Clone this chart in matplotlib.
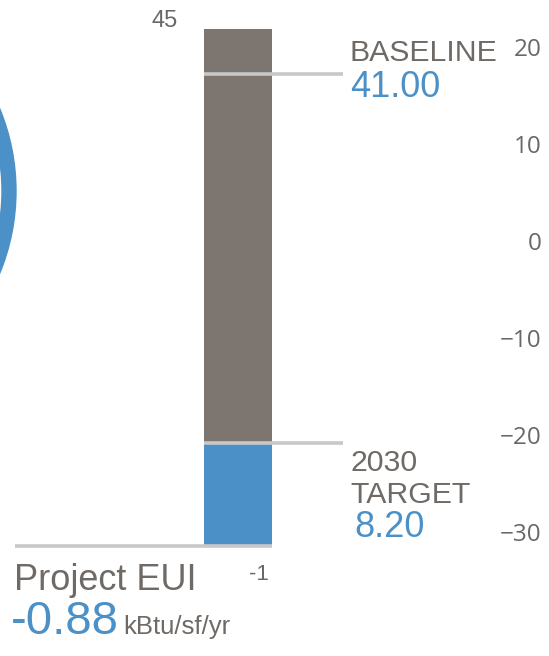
import matplotlib.pyplot as plt
from matplotlib.patches import Wedge

# Valores de EUI (kBtu/sf/yr)
eui_top = 45
eui_bottom = -1
baseline = 41.00
target_2030 = 8.20
project_eui = -0.88

# Escala auxiliar de la derecha
right_ticks = [20, 10, 0, -10, -20, -30]

gray_bar = "#7d756f"
blue = "#4b91c8"
line_gray = "#c8c8c8"
text_gray = "#6f6a66"
tick_gray = "#686868"
font = "Liberation Sans"

W, H = 549, 656
fig = plt.figure(figsize=(W / 100, H / 100), dpi=100)

# Eje principal: x en pixeles, y en valores de EUI
px_per_unit = (546 - 29) / (eui_top - eui_bottom)
y_hi = eui_top + 29 / px_per_unit
y_lo = eui_bottom - (H - 546) / px_per_unit
ax = fig.add_axes([0, 0, 1, 1])
ax.set_xlim(0, W)
ax.set_ylim(y_lo, y_hi)
ax.axis("off")

bar_x, bar_w = 238, 68
ax.bar(bar_x, target_2030 - eui_bottom, bottom=eui_bottom, width=bar_w, color=blue, zorder=2)
ax.bar(bar_x, eui_top - target_2030, bottom=target_2030, width=bar_w, color=gray_bar, zorder=2)

ax.hlines([baseline, target_2030], 204, 343, color=line_gray, lw=2.6, zorder=3)
ax.hlines(eui_bottom, 15, 272, color=line_gray, lw=2.6, zorder=3)

ax.text(bar_x - 73, eui_top + 0.2, f"{eui_top}", color=tick_gray, fontsize=17,
        family=font, ha="center", va="baseline")
ax.text(bar_x + 21, eui_bottom - 3.0, f"{eui_bottom}", color=tick_gray, fontsize=16,
        family=font, ha="center", va="baseline")

# Etiquetas de referencia
ax.text(350, baseline + 1.15, "BASELINE", color=text_gray, fontsize=21.8, family=font,
        ha="left", va="baseline")
ax.text(350, baseline - 2.05, f"{baseline:.2f}", color=blue, fontsize=26, family=font,
        ha="left", va="baseline")
ax.text(350, target_2030 - 2.5, "2030", color=text_gray, fontsize=21.8, family=font,
        ha="left", va="baseline")
ax.text(350, target_2030 - 5.34, "TARGET", color=text_gray, fontsize=21.8, family=font,
        ha="left", va="baseline")
ax.text(354, target_2030 - 8.36, f"{target_2030:.2f}", color=blue, fontsize=26, family=font,
        ha="left", va="baseline")

ax.text(14, eui_bottom - 1.5, "Project EUI", color=text_gray, fontsize=26, family=font,
        ha="left", va="top")
ax.text(11, eui_bottom - 7.8, f"{project_eui:.2f}", color=blue, fontsize=34, family=font,
        ha="left", va="baseline")
ax.text(123, eui_bottom - 7.8, "kBtu/sf/yr", color=text_gray, fontsize=18.5, family=font,
        ha="left", va="baseline")

# Escala de la derecha, solo etiquetas
ppu_r = (532 - 47) / (right_ticks[0] - right_ticks[-1])
r_hi = right_ticks[0] + 47 / ppu_r
r_lo = right_ticks[-1] - (H - 532) / ppu_r
ax2 = fig.add_axes([543 / W, 0, 5 / W, 1])
ax2.set_ylim(r_lo, r_hi)
ax2.set_yticks(right_ticks)
ax2.set_yticklabels([f"{t}".replace("-", "\u2212") for t in right_ticks],
                    family="Open Sans", fontsize=17.5, color=tick_gray)
ax2.tick_params(axis="y", length=0, pad=1)
ax2.set_xticks([])
for s in ax2.spines.values():
    s.set_visible(False)
ax2.patch.set_alpha(0)

# Anillo azul que asoma por la izquierda
ax3 = fig.add_axes([0, 0, 1, 1])
ax3.set_xlim(0, W)
ax3.set_ylim(H, 0)
ax3.axis("off")
ax3.patch.set_alpha(0)
ax3.add_patch(Wedge((-200, 191), 216, -90, 90, width=14, color=blue))

fig.savefig("out.png", dpi=100)
